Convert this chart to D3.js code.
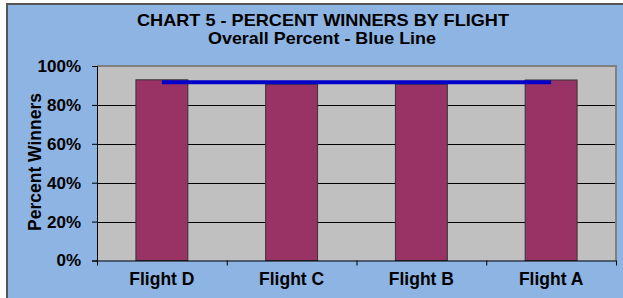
<!DOCTYPE html>
<html>
<head>
<meta charset="utf-8">
<script src="https://cdn.jsdelivr.net/npm/d3@7"></script>
<style>
  body { margin: 0; background: #fff; }
  text { font-family: "Liberation Sans", Arial, sans-serif; font-weight: bold; fill: #000; }
</style>
</head>
<body>
<div id="chart"></div>
<script>
// values
var categories = ["Flight D", "Flight C", "Flight B", "Flight A"];
var winPct = [0.929, 0.906, 0.906, 0.928];
var overallPct = 0.917;
var yTicks = [0, 0.2, 0.4, 0.6, 0.8, 1];

var width = 623, height = 298;
var plotLeft = 97, plotRight = 616, plotTop = 66, plotBottom = 260.5;

var svg = d3.select("#chart").append("svg")
  .attr("width", width)
  .attr("height", height);

// chart background + frame
svg.append("rect")
  .attr("x", 7).attr("y", 4)
  .attr("width", 700).attr("height", 400)
  .attr("fill", "#8EB4E3")
  .attr("stroke", "#555")
  .attr("stroke-width", 2);

var x = d3.scaleBand().domain(categories).range([plotLeft, plotRight])
  .paddingInner(0.6).paddingOuter(0.3);
var xEdge = d3.scaleLinear().domain([0, categories.length]).range([plotLeft, plotRight]);
var y = d3.scaleLinear().domain([0, 1]).range([plotBottom, plotTop]);

// plot area
svg.append("rect")
  .attr("x", plotLeft).attr("y", plotTop)
  .attr("width", plotRight - plotLeft).attr("height", plotBottom - plotTop)
  .attr("fill", "#C0C0C0");

// gridlines
svg.selectAll(".grid")
  .data(yTicks.filter(function(d){ return d > 0 && d < 1; }))
  .enter().append("line")
  .attr("x1", plotLeft).attr("x2", plotRight)
  .attr("y1", function(d){ return Math.round(y(d)) + 0.5; })
  .attr("y2", function(d){ return Math.round(y(d)) + 0.5; })
  .attr("stroke", "#000").attr("stroke-width", 1);

// plot border top / right (gray)
svg.append("path")
  .attr("d", "M" + plotLeft + "," + plotTop + "H" + plotRight + "V" + plotBottom)
  .attr("fill", "none")
  .attr("stroke", "#808080")
  .attr("stroke-width", 2);

// bars
svg.selectAll(".bar")
  .data(categories)
  .enter().append("rect")
  .attr("class", "bar")
  .attr("x", function(d){ return x(d); })
  .attr("width", x.bandwidth())
  .attr("y", function(d, i){ return y(winPct[i]); })
  .attr("height", function(d, i){ return y(0) - y(winPct[i]); })
  .attr("fill", "#993366")
  .attr("stroke", "#333")
  .attr("stroke-width", 1);

// overall line
var first = categories[0], last = categories[categories.length - 1];
svg.append("line")
  .attr("x1", x(first) + x.bandwidth() / 2)
  .attr("x2", x(last) + x.bandwidth() / 2)
  .attr("y1", y(overallPct)).attr("y2", y(overallPct))
  .attr("stroke", "#0000C8")
  .attr("stroke-width", 4);

// y axis
var yAxis = svg.append("g")
  .attr("transform", "translate(" + plotLeft + ",0)")
  .call(d3.axisLeft(y).tickValues(yTicks).tickFormat(d3.format(".0%")).tickSize(5).tickPadding(11));
yAxis.select(".domain").attr("stroke", "#000");
yAxis.selectAll(".tick line").attr("stroke", "#000");
yAxis.selectAll("text").style("font-size", "17px").attr("fill", "#000");

// x axis: edge ticks + labels
var xAxis = svg.append("g")
  .attr("transform", "translate(0," + plotBottom + ")")
  .call(d3.axisBottom(xEdge).tickValues(d3.range(categories.length + 1)).tickFormat("").tickSize(5).tickSizeOuter(0));
xAxis.select(".domain").attr("stroke", "#000");
xAxis.selectAll(".tick line").attr("stroke", "#000");

svg.append("g")
  .attr("transform", "translate(0," + plotBottom + ")")
  .call(d3.axisBottom(x).tickSize(0).tickPadding(12))
  .call(function(g){ g.select(".domain").remove(); })
  .selectAll("text").style("font-size", "17.5px").attr("fill", "#000");

// titles
svg.append("text")
  .attr("x", 323).attr("y", 26)
  .attr("text-anchor", "middle")
  .style("font-size", "17px")
  .attr("textLength", 372)
  .attr("lengthAdjust", "spacingAndGlyphs")
  .text("CHART 5 - PERCENT WINNERS BY FLIGHT");
svg.append("text")
  .attr("x", 322).attr("y", 44)
  .attr("text-anchor", "middle")
  .style("font-size", "17px")
  .attr("textLength", 228)
  .attr("lengthAdjust", "spacingAndGlyphs")
  .text("Overall Percent - Blue Line");

svg.append("text")
  .attr("transform", "translate(41,162) rotate(-90)")
  .attr("text-anchor", "middle")
  .style("font-size", "17.5px")
  .text("Percent Winners");
</script>
</body>
</html>
